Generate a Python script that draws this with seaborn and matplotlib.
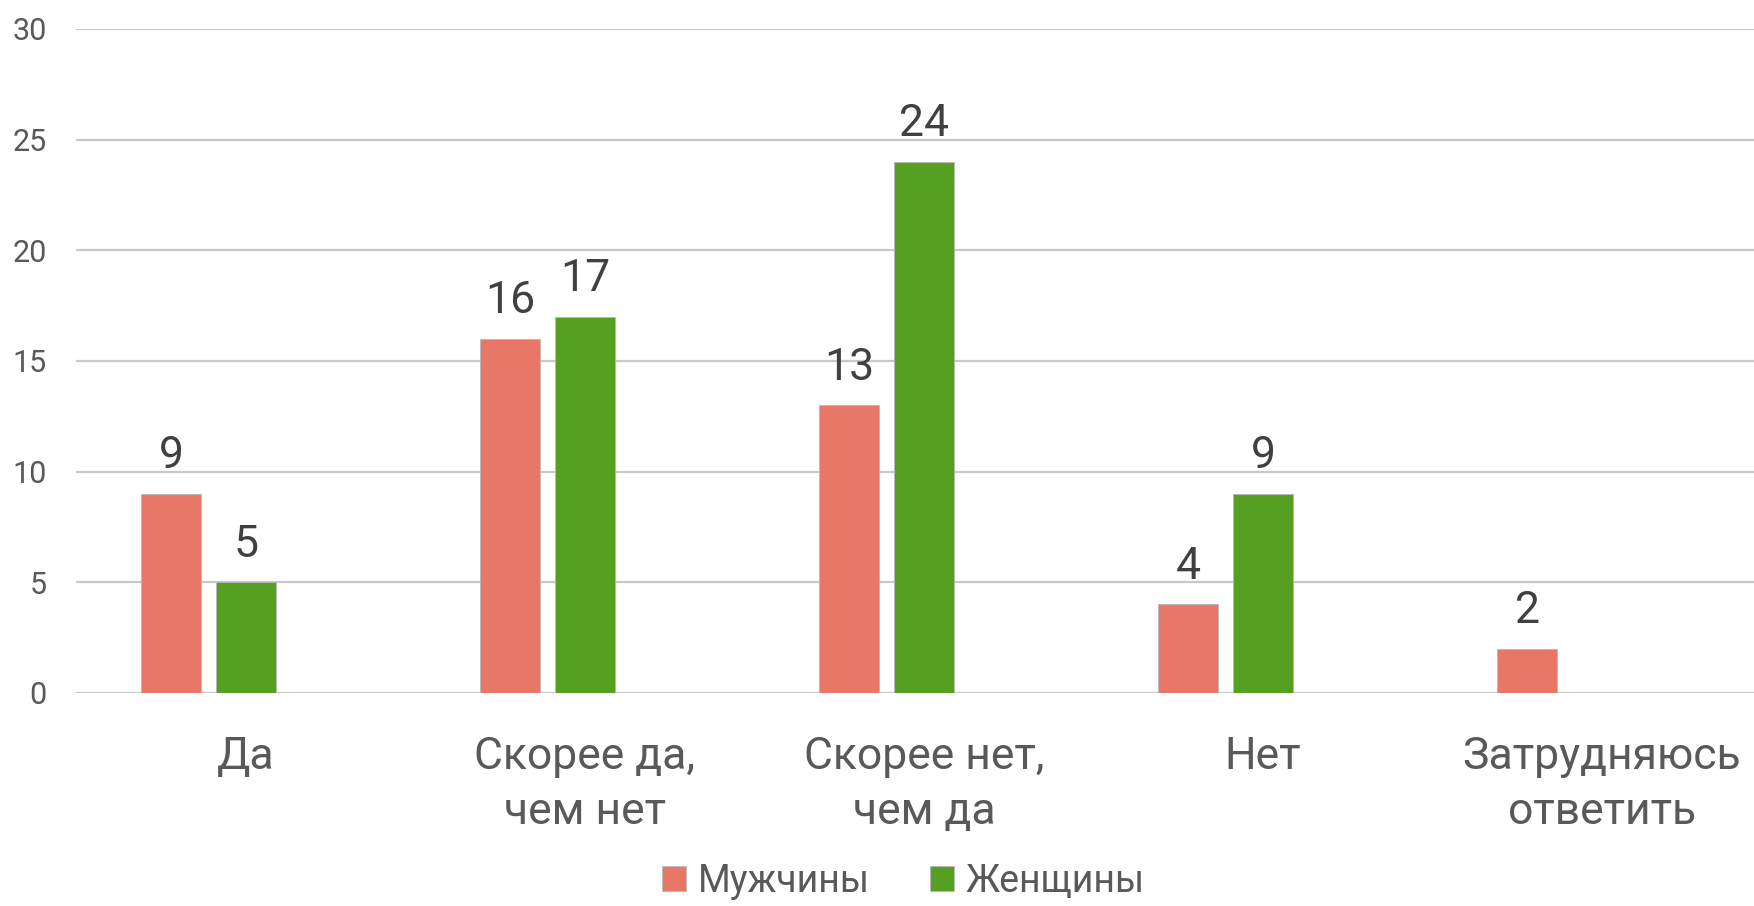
import numpy as np
import pandas as pd
import matplotlib
matplotlib.use('Agg')
import matplotlib.pyplot as plt
import matplotlib.transforms as mtransforms
import seaborn as sns

# Data
categories = ['Да', 'Скорее да,\nчем нет', 'Скорее нет,\nчем да', 'Нет', 'Затрудняюсь\nответить']
series = ['Мужчины', 'Женщины']
men = [9, 16, 13, 4, 2]
women = [5, 17, 24, 9, np.nan]
colors = ['#E97768', '#55A021']
yticks = [0, 5, 10, 15, 20, 25, 30]

df = pd.DataFrame({
    'cat': categories * 2,
    'group': [series[0]] * len(men) + [series[1]] * len(women),
    'value': men + women,
}).dropna()

sns.set_theme(style='white')
plt.rcParams['font.family'] = ['Roboto', 'DejaVu Sans']

W, H = 1754, 906
fig = plt.figure(figsize=(W / 100, H / 100), dpi=100)
ax = fig.add_axes([76 / W, 213 / H, 1 - 76 / W, (693 - 29) / H])

sns.barplot(data=df, x='cat', y='value', hue='group', order=categories,
            hue_order=series, palette=colors, saturation=1, width=0.442, gap=0.2,
            edgecolor='#B8B8B8', linewidth=0.6, ax=ax, legend=True)

for cont in ax.containers:
    ax.bar_label(cont, fmt='%g', padding=12, fontsize=32, color='#404040')

ax.set_ylim(0, 30)
ax.set_xlim(-0.392, 4.558)
ax.set_yticks(yticks)
ax.yaxis.grid(True, color='#C8C8C8', linewidth=1.6)
ax.set_axisbelow(True)
sns.despine(ax=ax, left=True, top=True, right=True, bottom=True)
ax.axhline(0, color='#B4B4B4', linewidth=1.8, zorder=0.5)
ax.set_xlabel('')
ax.set_ylabel('')
ax.tick_params(axis='y', length=0, pad=21, labelsize=22, labelcolor='#595959')
ax.tick_params(axis='x', length=0, pad=31, labelsize=32, labelcolor='#595959')

# category labels sit a bit right of the bar pairs in the original
shift = mtransforms.ScaledTranslation(0.37, 0, fig.dpi_scale_trans)
for lab in ax.get_xticklabels():
    lab.set_linespacing(1.38)
    lab.set_transform(lab.get_transform() + shift)

handles, labels = ax.get_legend_handles_labels()
ax.get_legend().remove()
fig.legend(handles, labels, loc='center', bbox_to_anchor=(0.515, 0.027), ncol=2,
           frameon=False, fontsize=27, handlelength=0.65, handleheight=0.65,
           handletextpad=0.3, columnspacing=1.6, labelcolor='#595959')

fig.savefig('out.png', dpi=100)
